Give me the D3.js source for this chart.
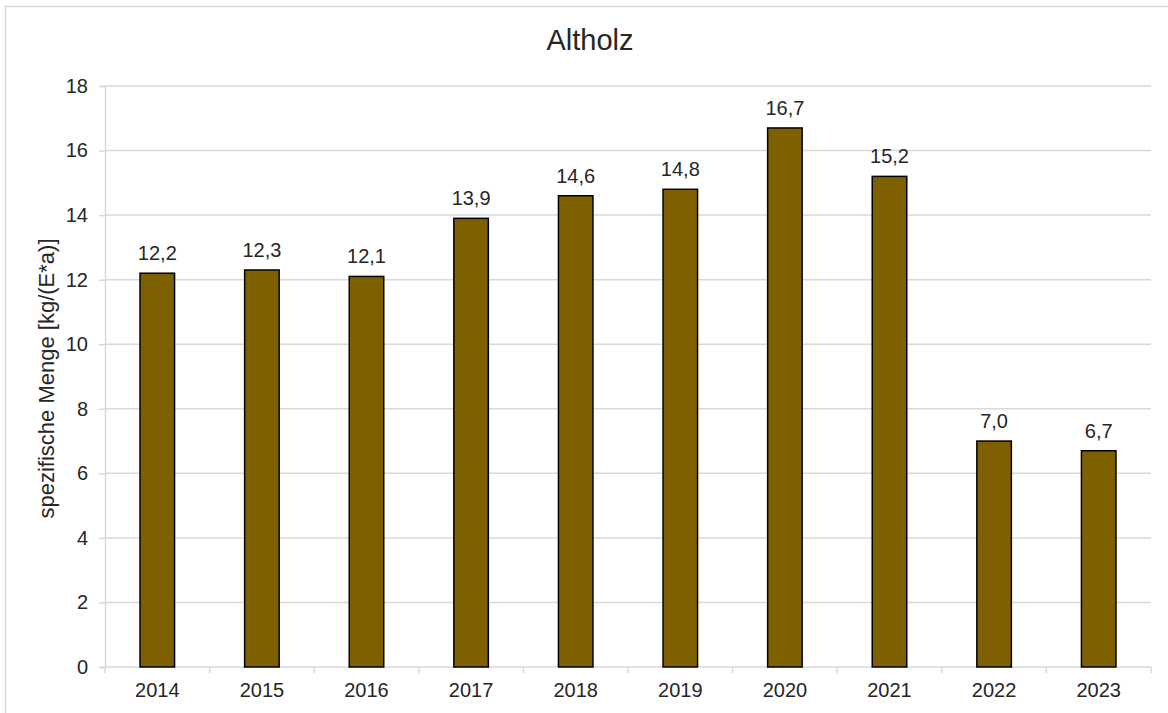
<!DOCTYPE html>
<html>
<head>
<meta charset="utf-8">
<script src="https://cdn.jsdelivr.net/npm/d3@7"></script>
<style>
  body { margin: 0; background: #fff; }
  text { font-family: "Liberation Sans", Arial, sans-serif; fill: #262626; }
</style>
</head>
<body>
<svg id="chart"></svg>
<script>
  // chart data
  var years = ['2014', '2015', '2016', '2017', '2018', '2019', '2020', '2021', '2022', '2023'];
  var values = [12.2, 12.3, 12.1, 13.9, 14.6, 14.8, 16.7, 15.2, 7.0, 6.7];
  var yTicks = [0, 2, 4, 6, 8, 10, 12, 14, 16, 18];
  var title = 'Altholz';
  var yTitle = 'spezifische Menge [kg/(E*a)]';

  var width = 1168, height = 713;
  var margin = { left: 105, right: 17, top: 86, bottom: 46 };
  var gridColor = '#d9d9d9';

  var svg = d3.select('#chart').attr('width', width).attr('height', height);

  // outer frame, runs off the right and bottom edge
  svg.append('rect')
    .attr('x', 5.5).attr('y', 6.5)
    .attr('width', width).attr('height', height)
    .attr('fill', 'none').attr('stroke', gridColor).attr('stroke-width', 1.5);

  var x = d3.scaleBand().domain(years)
    .range([margin.left, width - margin.right]);
  var y = d3.scaleLinear().domain([0, 18])
    .range([height - margin.bottom, margin.top]);

  // gridlines
  svg.append('g').selectAll('line').data(yTicks.slice(1)).enter().append('line')
    .attr('x1', margin.left).attr('x2', width - margin.right)
    .attr('y1', function (d) { return y(d); }).attr('y2', function (d) { return y(d); })
    .attr('stroke', gridColor).attr('stroke-width', 1.5);

  // y axis
  var yAxis = svg.append('g')
    .attr('transform', 'translate(' + margin.left + ',0)')
    .call(d3.axisLeft(y).tickValues(yTicks).tickSize(6).tickPadding(11));
  yAxis.select('.domain').attr('stroke', gridColor).attr('stroke-width', 1.5);
  yAxis.selectAll('.tick line').attr('stroke', gridColor).attr('stroke-width', 1.5);
  yAxis.selectAll('.tick text').attr('font-size', 20).attr('fill', '#262626')
    .style('font-family', '"Liberation Sans", Arial, sans-serif');

  // x axis with ticks between categories
  var xAxisG = svg.append('g').attr('transform', 'translate(0,' + y(0) + ')');
  xAxisG.append('line')
    .attr('x1', margin.left).attr('x2', width - margin.right)
    .attr('stroke', gridColor).attr('stroke-width', 1.5);
  var bounds = years.map(function (d) { return x(d); }).concat([width - margin.right]);
  xAxisG.selectAll('line.tk').data(bounds).enter().append('line')
    .attr('class', 'tk')
    .attr('x1', function (d) { return d; }).attr('x2', function (d) { return d; })
    .attr('y1', 0).attr('y2', 6)
    .attr('stroke', gridColor).attr('stroke-width', 1.5);
  xAxisG.selectAll('text').data(years).enter().append('text')
    .attr('x', function (d) { return x(d) + x.bandwidth() / 2; })
    .attr('y', 30)
    .attr('text-anchor', 'middle').attr('font-size', 20)
    .text(function (d) { return d; });

  // bars
  var barW = x.bandwidth() * 0.33;
  svg.append('g').selectAll('rect').data(values).enter().append('rect')
    .attr('x', function (d, i) { return x(years[i]) + (x.bandwidth() - barW) / 2; })
    .attr('y', function (d) { return y(d); })
    .attr('width', barW)
    .attr('height', function (d) { return y(0) - y(d); })
    .attr('fill', '#7f6000').attr('stroke', '#000').attr('stroke-width', 1.5);

  // value labels
  svg.append('g').selectAll('text').data(values).enter().append('text')
    .attr('x', function (d, i) { return x(years[i]) + x.bandwidth() / 2; })
    .attr('y', function (d) { return y(d) - 13; })
    .attr('text-anchor', 'middle').attr('font-size', 20)
    .text(function (d) { return d.toFixed(1).replace('.', ','); });

  // titles
  svg.append('text')
    .attr('x', 590).attr('y', 50)
    .attr('text-anchor', 'middle').attr('font-size', 29)
    .text(title);

  svg.append('text')
    .attr('transform', 'translate(54,' + ((y(0) + y(18)) / 2 + 2) + ') rotate(-90)')
    .attr('text-anchor', 'middle').attr('font-size', 22)
    .text(yTitle);
</script>
</body>
</html>
